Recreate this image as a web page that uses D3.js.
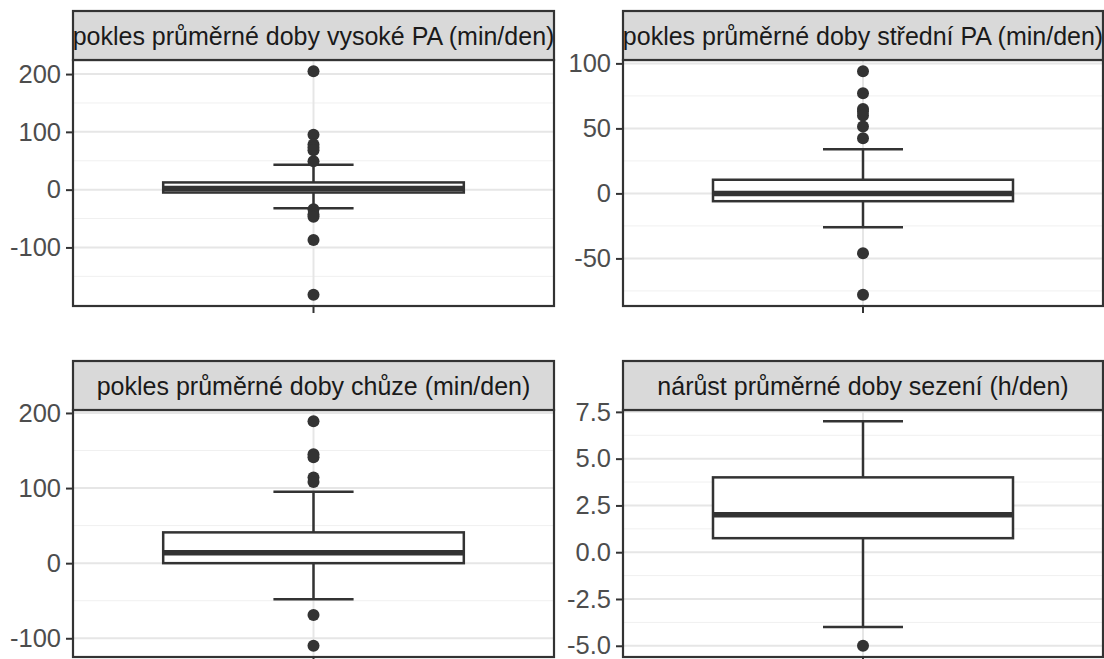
<!DOCTYPE html>
<html>
<head>
<meta charset="utf-8">
<script src="https://cdn.jsdelivr.net/npm/d3@7"></script>
<style>
  body { margin: 0; background: #fff; }
</style>
</head>
<body>
<div id="chart"></div>
<script>
let titles = [
  "pokles průměrné doby vysoké PA (min/den)",
  "pokles průměrné doby střední PA (min/den)",
  "pokles průměrné doby chůze (min/den)",
  "nárůst průměrné doby sezení (h/den)"
]

// [lower whisker, q1, median, q3, upper whisker]
let boxStats = [
  [-32, -5, 2, 12.5, 43],
  [-26, -6, 0, 10.5, 34],
  [-48, 0, 14, 41, 95],
  [-4, 0.75, 2, 4, 7]
]

let outliers = [
  [205, 95, 78, 73, 68, 49, -34, -43, -47, -87, -182],
  [94, 77, 65, 63, 60, 51.5, 42.5, -46, -78],
  [189, 145, 141, 114, 108, -69, -110],
  [-5]
]

let majorTicks = [
  [-100, 0, 100, 200],
  [-50, 0, 50, 100],
  [-100, 0, 100, 200],
  [-5, -2.5, 0, 2.5, 5, 7.5]
]

let minorTicks = [
  [-150, -50, 50, 150],
  [-75, -25, 25, 75],
  [-50, 50, 150],
  [-3.75, -1.25, 1.25, 3.75, 6.25]
]

let tickLabels = [
  ["-100", "0", "100", "200"],
  ["-50", "0", "50", "100"],
  ["-100", "0", "100", "200"],
  ["-5.0", "-2.5", "0.0", "2.5", "5.0", "7.5"]
]

let width = 1104, height = 659
let cols = [[73, 554], [623, 1103]]
let rows = [[11, 60, 306], [361, 410, 657]]   // strip top, plot top, plot bottom
let font = "'Liberation Sans', Arial, sans-serif"
let dark = "#333333"

let svg = d3.select("#chart")
  .append("svg")
  .attr("width", width)
  .attr("height", height)

titles.forEach((title, i) => {
  let [x0, x1] = cols[i % 2]
  let [sTop, pTop, pBottom] = rows[Math.floor(i / 2)]
  let stats = boxStats[i]
  let pts = outliers[i]

  let lo = d3.min([stats[0], ...pts]), hi = d3.max([stats[4], ...pts])
  let pad = (hi - lo) * 0.05
  let y = d3.scaleLinear().domain([lo - pad, hi + pad]).range([pBottom, pTop])
  // discrete x with ggplot's 0.6 expansion around a single category
  let x = d3.scaleLinear().domain([0.4, 1.6]).range([x0, x1])

  let g = svg.append("g")

  g.append("rect")
    .attr("x", x0).attr("y", pTop)
    .attr("width", x1 - x0).attr("height", pBottom - pTop)
    .attr("fill", "#fff")

  g.selectAll(".minor").data(minorTicks[i]).enter().append("line")
    .attr("x1", x0).attr("x2", x1)
    .attr("y1", d => y(d)).attr("y2", d => y(d))
    .attr("stroke", "#f0f0f0").attr("stroke-width", 1)

  g.selectAll(".major").data(majorTicks[i]).enter().append("line")
    .attr("x1", x0).attr("x2", x1)
    .attr("y1", d => y(d)).attr("y2", d => y(d))
    .attr("stroke", "#e6e6e6").attr("stroke-width", 2)

  g.append("line")
    .attr("x1", x(1)).attr("x2", x(1))
    .attr("y1", pTop).attr("y2", pBottom)
    .attr("stroke", "#e6e6e6").attr("stroke-width", 2)

  // whiskers
  let cap = 0.1
  g.append("line")
    .attr("x1", x(1)).attr("x2", x(1))
    .attr("y1", y(stats[0])).attr("y2", y(stats[1]))
    .attr("stroke", dark).attr("stroke-width", 2.5)
  g.append("line")
    .attr("x1", x(1)).attr("x2", x(1))
    .attr("y1", y(stats[3])).attr("y2", y(stats[4]))
    .attr("stroke", dark).attr("stroke-width", 2.5)
  g.selectAll(".cap").data([stats[0], stats[4]]).enter().append("line")
    .attr("x1", x(1 - cap)).attr("x2", x(1 + cap))
    .attr("y1", d => y(d)).attr("y2", d => y(d))
    .attr("stroke", dark).attr("stroke-width", 2.5)

  // box
  let half = 0.375
  g.append("rect")
    .attr("x", x(1 - half)).attr("y", y(stats[3]))
    .attr("width", x(1 + half) - x(1 - half))
    .attr("height", y(stats[1]) - y(stats[3]))
    .attr("fill", "#fff")
    .attr("stroke", dark).attr("stroke-width", 2.5)
  g.append("line")
    .attr("x1", x(1 - half)).attr("x2", x(1 + half))
    .attr("y1", y(stats[2])).attr("y2", y(stats[2]))
    .attr("stroke", dark).attr("stroke-width", 5.5)

  g.selectAll(".pt").data(pts).enter().append("circle")
    .attr("cx", x(1)).attr("cy", d => y(d))
    .attr("r", 6)
    .attr("fill", dark)

  g.append("rect")
    .attr("x", x0).attr("y", pTop)
    .attr("width", x1 - x0).attr("height", pBottom - pTop)
    .attr("fill", "none")
    .attr("stroke", dark).attr("stroke-width", 2.2)

  // strip
  g.append("rect")
    .attr("x", x0).attr("y", sTop)
    .attr("width", x1 - x0).attr("height", pTop - sTop)
    .attr("fill", "#d9d9d9")
    .attr("stroke", dark).attr("stroke-width", 2.2)
  g.append("text")
    .attr("x", (x0 + x1) / 2).attr("y", (sTop + pTop) / 2)
    .attr("dy", "0.36em")
    .attr("text-anchor", "middle")
    .attr("font-family", font)
    .attr("font-size", "25px")
    .attr("fill", "#1a1a1a")
    .text(title)

  // y axis
  let axis = svg.append("g")
    .attr("transform", `translate(${x0}, 0)`)
    .call(d3.axisLeft(y)
      .tickValues(majorTicks[i])
      .tickSize(7)
      .tickPadding(5)
      .tickFormat((d, k) => tickLabels[i][k]))
  axis.select(".domain").remove()
  axis.selectAll(".tick line").attr("stroke", dark).attr("stroke-width", 2)
  axis.selectAll(".tick text")
    .attr("font-family", font)
    .attr("font-size", "25.5px")
    .attr("fill", "#4d4d4d")

  // x axis tick (no label)
  g.append("line")
    .attr("x1", x(1)).attr("x2", x(1))
    .attr("y1", pBottom).attr("y2", pBottom + 7)
    .attr("stroke", dark).attr("stroke-width", 2)
})
</script>
</body>
</html>
